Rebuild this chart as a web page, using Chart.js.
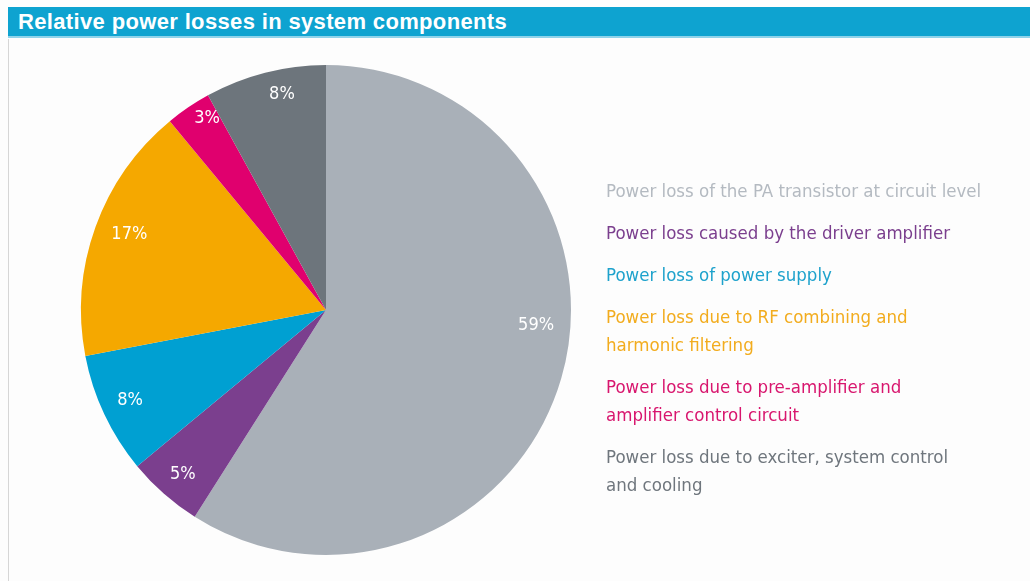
<!DOCTYPE html>
<html>
<head>
<meta charset="utf-8">
<script src="https://cdn.jsdelivr.net/npm/chart.js@4.4.1/dist/chart.umd.min.js"></script>
<style>
  html, body { margin: 0; padding: 0; background: #fdfdfd; }
  body { width: 1030px; height: 581px; position: relative; overflow: hidden; }
  #title {
    position: absolute; left: 8px; top: 7px; width: 1022px; height: 31px;
    background: #0ea3d0; border-bottom: 2px solid #8fd3ea;
    color: #ffffff; font-family: "Liberation Sans", Arial, sans-serif; font-weight: bold;
    font-size: 22px; line-height: 29px; box-sizing: border-box; padding-left: 10px;
    letter-spacing: 0.35px;
  }
  #leftline { position: absolute; left: 8px; top: 39px; width: 1px; height: 542px; background: #d6d6d6; }
  #wrap { position: absolute; left: 0; top: 0; width: 1030px; height: 581px; }
</style>
</head>
<body>
<div id="wrap"><canvas id="c" width="1030" height="581"></canvas></div>
<div id="title">Relative power losses in system components</div>
<div id="leftline"></div>
<script>
const categories = [
  ["Power loss of the PA transistor at circuit level"],
  ["Power loss caused by the driver amplifier"],
  ["Power loss of power supply"],
  ["Power loss due to RF combining and", "harmonic filtering"],
  ["Power loss due to pre-amplifier and", "amplifier control circuit"],
  ["Power loss due to exciter, system control", "and cooling"]
];
const values = [59, 5, 8, 17, 3, 8];
const valueLabels = ["59%", "5%", "8%", "17%", "3%", "8%"];

const sliceColors = ["#a9b0b8", "#7b3f8e", "#00a0d2", "#f5a800", "#e0006e", "#6d757c"];
const legendColors = ["#b4bac1", "#7b3f8e", "#1ea2cc", "#f2ac1e", "#d8166e", "#6f767d"];

const FONT = '"Liberation Sans Narrow", "DejaVu Sans Condensed", "Roboto", sans-serif';

const labelPlugin = {
  id: 'sliceLabels',
  afterDatasetsDraw(chart, args, opts) {
    const ctx = chart.ctx;
    const meta = chart.getDatasetMeta(0);
    ctx.save();
    ctx.font = '18px ' + FONT;
    ctx.fillStyle = '#ffffff';
    ctx.textAlign = 'center';
    ctx.textBaseline = 'middle';
    meta.data.forEach((arc, i) => {
      const p = arc.getProps(['x', 'y', 'startAngle', 'endAngle', 'outerRadius'], true);
      const f = opts.angleFrac[i];
      const a = p.startAngle + (p.endAngle - p.startAngle) * f;
      const r = p.outerRadius * opts.radiusFrac[i];
      ctx.fillText(valueLabels[i], p.x + Math.cos(a) * r, p.y + Math.sin(a) * r);
    });
    ctx.restore();
  }
};

const legendPlugin = {
  id: 'textLegend',
  afterDraw(chart, args, opts) {
    const ctx = chart.ctx;
    ctx.save();
    ctx.font = '18.5px ' + FONT;
    ctx.textAlign = 'left';
    ctx.textBaseline = 'middle';
    let y = opts.y;
    chart.data.labels.forEach((lines, i) => {
      ctx.fillStyle = legendColors[i];
      lines.forEach((ln, j) => {
        ctx.fillText(ln, opts.x, y);
        if (j < lines.length - 1) y += opts.lineHeight;
      });
      y += opts.lineHeight + opts.itemGap;
    });
    ctx.restore();
  }
};

new Chart(document.getElementById('c'), {
  type: 'pie',
  data: {
    labels: categories,
    datasets: [{
      data: values,
      backgroundColor: sliceColors,
      borderWidth: 0
    }]
  },
  options: {
    responsive: false,
    animation: false,
    events: [],
    layout: { padding: { left: 81, top: 65, right: 459, bottom: 26 } },
    plugins: {
      legend: { display: false },
      tooltip: { enabled: false },
      title: { display: false },
      sliceLabels: {
        angleFrac: [0.444, 0.48, 0.52, 0.52, 0.72, 0.6],
        radiusFrac: [0.86, 0.89, 0.88, 0.86, 0.92, 0.9]
      },
      textLegend: { x: 606, y: 192, lineHeight: 28, itemGap: 14 }
    }
  },
  plugins: [labelPlugin, legendPlugin]
});
</script>
</body>
</html>
